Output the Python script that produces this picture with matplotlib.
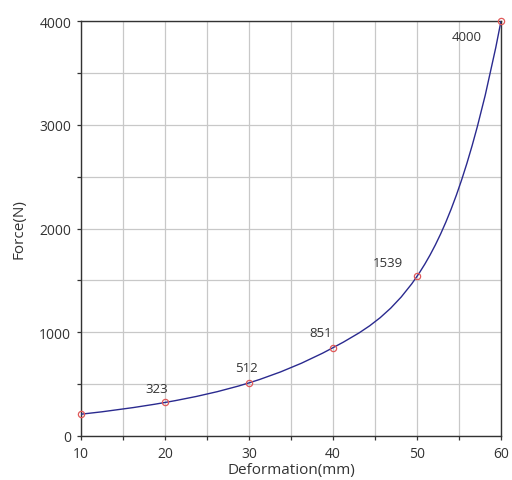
import numpy as np
import matplotlib
matplotlib.use("Agg")
import matplotlib.pyplot as plt
from matplotlib.path import Path
from matplotlib.patches import PathPatch

# Force vs. deformation measurements
deformation_mm = [10, 20, 30, 40, 50, 60]
force_n = [210, 323, 512, 851, 1539, 4000]
labelled = [False, True, True, True, True, True]

# text offsets (points) for the value labels
label_offsets = [(0, 0), (-6, 10), (-2, 11), (-9, 11), (-21, 10), (-25, -11)]

x_ticks = [10, 20, 30, 40, 50, 60]
y_ticks = [0, 1000, 2000, 3000, 4000]

plt.rcParams["font.family"] = ["Open Sans", "DejaVu Sans"]

fig = plt.figure(figsize=(5.12, 4.81), dpi=100)
ax = fig.add_axes([0.158, 0.0915, 0.8205, 0.8625])

# smooth growth curve: slopes from a natural cubic spline of log(force),
# drawn as cubic Bezier segments between the measured points
xs = np.asarray(deformation_mm, float)
ys = np.asarray(force_n, float)
ly = np.log(ys)
n = len(xs)
h = np.diff(xs)
A = np.zeros((n, n))
b = np.zeros(n)
A[0, 0] = A[-1, -1] = 1.0
for i in range(1, n - 1):
    A[i, i - 1] = h[i - 1]
    A[i, i] = 2 * (h[i - 1] + h[i])
    A[i, i + 1] = h[i]
    b[i] = 6 * ((ly[i + 1] - ly[i]) / h[i] - (ly[i] - ly[i - 1]) / h[i - 1])
M = np.linalg.solve(A, b)
dl = np.zeros(n)
for i in range(n - 1):
    dl[i] = (ly[i + 1] - ly[i]) / h[i] - h[i] * (2 * M[i] + M[i + 1]) / 6
dl[-1] = (ly[-1] - ly[-2]) / h[-1] + h[-1] * (M[-2] + 2 * M[-1]) / 6
d = ys * dl

verts = [(xs[0], ys[0])]
codes = [Path.MOVETO]
for i in range(n - 1):
    t = h[i] / 3
    verts += [(xs[i] + t, ys[i] + t * d[i]),
              (xs[i + 1] - t, ys[i + 1] - t * d[i + 1]),
              (xs[i + 1], ys[i + 1])]
    codes += [Path.CURVE4] * 3
curve = PathPatch(Path(verts, codes), facecolor="none", edgecolor="#2a2a8f",
                  linewidth=1.0, zorder=3)
ax.add_patch(curve)

ax.plot(deformation_mm, force_n, linestyle="none", marker="o", markersize=4.5,
        markerfacecolor="none", markeredgecolor="#e05a5a", markeredgewidth=0.9,
        zorder=4, clip_on=False)

for x, y, show, (dx, dy) in zip(deformation_mm, force_n, labelled, label_offsets):
    if show:
        ax.annotate(f"{y}", (x, y), xytext=(dx, dy), textcoords="offset points",
                    ha="center", va="center", fontsize=9.5, color="#333333")

ax.set_xlim(10, 60)
ax.set_ylim(0, 4000)
ax.set_xticks(x_ticks)
ax.set_yticks(y_ticks)
ax.set_xticks(np.arange(15, 60, 10), minor=True)
ax.set_yticks(np.arange(500, 4000, 1000), minor=True)
ax.grid(True, which="both", color="#c8c8c8", linewidth=0.9)
ax.set_axisbelow(True)
ax.tick_params(which="both", direction="out", length=3, width=0.9, color="#333333")
ax.tick_params(which="major", labelsize=10, labelcolor="#333333", pad=4)
for s in ax.spines.values():
    s.set_color("#333333")
    s.set_linewidth(1.0)

ax.set_xlabel("Deformation(mm)", fontsize=11, color="#333333", labelpad=1)
ax.set_ylabel("Force(N)", fontsize=11, color="#333333", labelpad=9)

fig.savefig("out.png", dpi=100)
